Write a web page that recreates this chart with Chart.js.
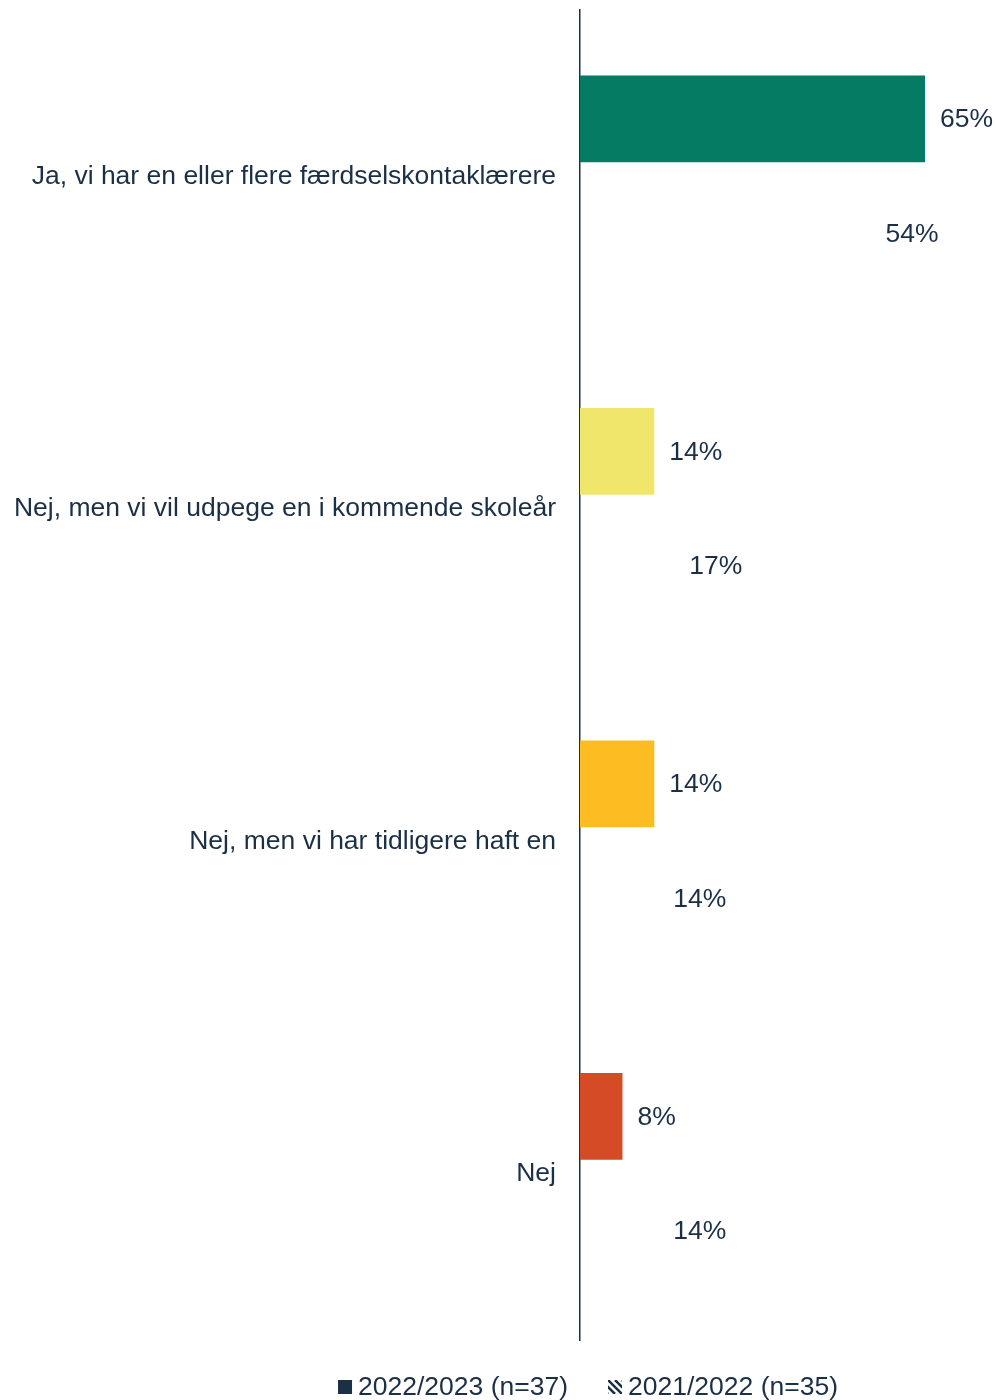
<!DOCTYPE html>
<html>
<head>
<meta charset="utf-8">
<script src="https://cdn.jsdelivr.net/npm/chart.js@4/dist/chart.umd.min.js"></script>
<style>
  body { margin: 0; background: #fff; }
  #wrap { width: 996px; height: 1400px; position: relative; }
</style>
</head>
<body>
<div id="wrap"><canvas id="chart"></canvas></div>
<script>
// kategorier og værdier (procent)
const categories = [
    'Ja, vi har en eller flere færdselskontaklærere',
    'Nej, men vi vil udpege en i kommende skoleår',
    'Nej, men vi har tidligere haft en',
    'Nej'
];
const values2023 = [65, 14, 14, 8];
const values2022 = [54, 17, 14, 14];
const seriesNames = ['2022/2023 (n=37)', '2021/2022 (n=35)'];
const barColors = ['#057b63', '#f0e66c', '#fdbc21', '#d54b25'];

const textColor = '#1b2f45';
const fontFamily = 'Liberation Sans, Arial, sans-serif';
const fontSize = 26.5;

// tekst ud for hver søjle
const valueLabels = {
    id: 'valueLabels',
    afterDatasetsDraw(chart) {
        const ctx = chart.ctx;
        ctx.save();
        ctx.font = fontSize + 'px ' + fontFamily;
        ctx.fillStyle = textColor;
        ctx.textAlign = 'left';
        ctx.textBaseline = 'middle';
        chart.data.datasets.forEach((ds, i) => {
            const meta = chart.getDatasetMeta(i);
            meta.data.forEach((bar, j) => {
                const offset = i === 0 ? 15 : 19;
                ctx.fillText(ds.data[j] + '%', bar.x + offset, bar.y + 1);
            });
        });
        ctx.restore();
    }
};

// egen legend under grafen (fuld sort firkant + skraveret mærke)
const bottomLegend = {
    id: 'bottomLegend',
    afterDraw(chart) {
        const ctx = chart.ctx;
        const box = 14, gap = 6, between = 40;
        ctx.save();
        ctx.font = fontSize + 'px ' + fontFamily;
        const w0 = ctx.measureText(seriesNames[0]).width;
        const w1 = ctx.measureText(seriesNames[1]).width;
        const total = box + gap + w0 + between + box + gap + w1;
        let x = 588 - total / 2;
        const y = chart.chartArea.bottom + 47;

        ctx.fillStyle = textColor;
        ctx.fillRect(x, y - 7, box, box);
        ctx.textBaseline = 'middle';
        ctx.fillText(seriesNames[0], x + box + gap, y + 1);

        x += box + gap + w0 + between;
        ctx.save();
        ctx.beginPath();
        ctx.rect(x, y - 7, box, box);
        ctx.clip();
        ctx.strokeStyle = textColor;
        ctx.lineWidth = 2.5;
        ctx.beginPath();
        for (let k = -14; k <= 14; k += 7) {
            ctx.moveTo(x + k, y - 7);
            ctx.lineTo(x + k + box, y + 7);
        }
        ctx.stroke();
        ctx.restore();
        ctx.fillStyle = textColor;
        ctx.fillText(seriesNames[1], x + box + gap, y + 1);
        ctx.restore();
    }
};

const ctx = document.getElementById('chart').getContext('2d');
const chart = new Chart(ctx, {
    type: 'bar',
    data: {
        labels: categories,
        datasets: [
            {
                label: seriesNames[0],
                data: values2023,
                backgroundColor: barColors,
                categoryPercentage: 0.69,
                barPercentage: 0.757
            },
            {
                label: seriesNames[1],
                data: values2022,
                backgroundColor: 'rgba(255,255,255,0)',
                categoryPercentage: 0.69,
                barPercentage: 0.757
            }
        ]
    },
    options: {
        indexAxis: 'y',
        responsive: true,
        maintainAspectRatio: false,
        animation: false,
        layout: { padding: { top: 10, right: 2, left: 0, bottom: 60 } },
        scales: {
            x: {
                display: false,
                min: 0,
                max: 78
            },
            y: {
                grid: { display: false, drawTicks: false },
                border: { display: true, color: textColor, width: 1.5 },
                ticks: {
                    color: textColor,
                    font: { size: fontSize, family: fontFamily },
                    padding: 24
                },
                afterFit(scale) {
                    scale.width = 580;
                    scale.paddingTop = 0;
                    scale.paddingBottom = 0;
                }
            }
        },
        plugins: {
            tooltip: { enabled: false },
            legend: { display: false }
        }
    },
    plugins: [valueLabels, bottomLegend]
});
</script>
</body>
</html>
